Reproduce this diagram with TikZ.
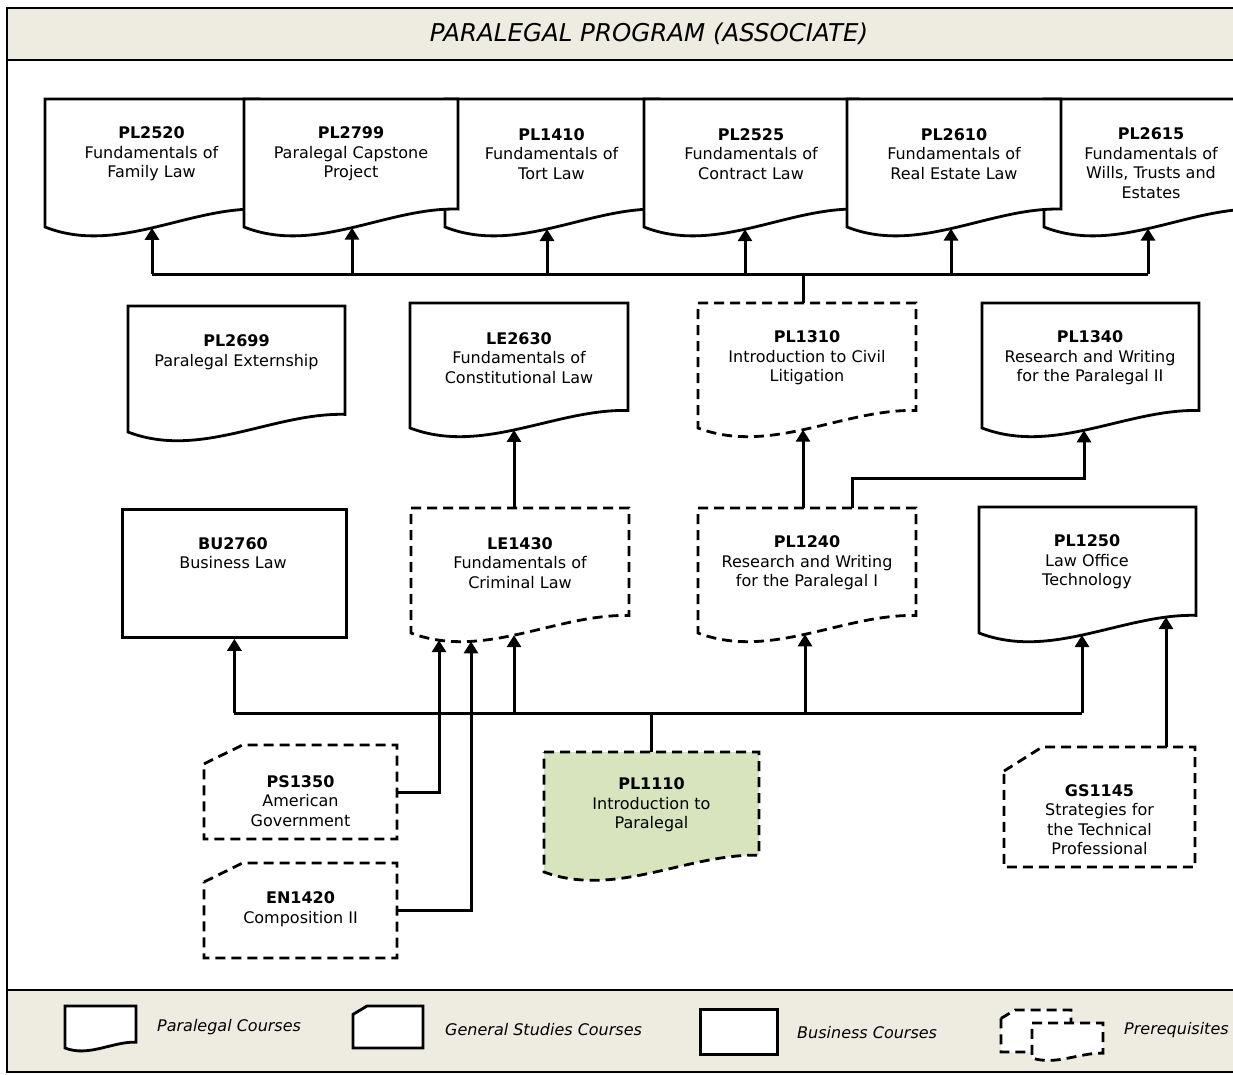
\documentclass[tikz,border=0pt]{standalone}
\usepackage{fontspec}
\setmainfont{DejaVu Sans}
\usetikzlibrary{arrows.meta,calc}
\definecolor{bandtan}{HTML}{EEECE1}
\definecolor{introgreen}{HTML}{D7E4BD}
\newcommand{\docshape}[7][]{%
  \draw[docline,#1] (#3,#4) -- ({#3+#5},#4) coordinate[midway] (#2-top) -- ({#3+#5},{#4+0.86*#6})
    .. controls ({#3+2*#5/3},{#4+0.845*#6}) and ({#3+#5/3},{#4+1.22*#6}) .. (#3,{#4+#6}) -- cycle;
  \foreach \lbl/\ex in {#7}{
    \pgfmathsetmacro{\tpos}{1-(\ex-#3)/#5}
    \path ({#3+#5},{#4+0.86*#6}) .. controls ({#3+2*#5/3},{#4+0.845*#6}) and ({#3+#5/3},{#4+1.22*#6}) .. (#3,{#4+#6}) coordinate[pos=\tpos] (#2-\lbl);
  }%
}
\newcommand{\gsshape}[6][]{%
  \draw[docline,#1] (#3,{#4+0.2*#6}) -- ({#3+0.2*#5},#4) -- ({#3+#5},#4) -- ({#3+#5},{#4+#6}) -- (#3,{#4+#6}) -- cycle;
  \coordinate (#2-top) at ({#3+#5/2},#4);
  \coordinate (#2-east) at ({#3+#5},{#4+#6/2});
}
\begin{document}
\begin{tikzpicture}[x=1pt,y=-1pt,>={Triangle[width=14pt,length=12pt]},
  docline/.style={draw,line width=2.8pt,fill=white},
  prereq/.style={dash pattern=on 10pt off 6pt},
  link/.style={line width=3pt},
  course/.style={align=center,inner sep=0pt,font=\fontsize{16}{19.5}\selectfont},
  legend/.style={anchor=west,inner sep=0pt,font=\fontsize{16}{19.5}\selectfont\itshape}]

\useasboundingbox (0,0) rectangle (1233,1074);
\draw[line width=2pt] (7,8) rectangle (1250,1072);
\draw[line width=2pt,fill=bandtan] (7,8) rectangle (1250,60);
\draw[line width=2pt,fill=bandtan] (7,990) rectangle (1250,1072);
\node[font=\fontsize{24.5}{28}\selectfont\itshape] (title) at (649,34) {PARALEGAL PROGRAM (ASSOCIATE)};

\docshape{PL2520}{45}{99}{214}{128}{in/152}
\docshape{PL1410}{445}{99}{214}{128}{in/547}
\docshape{PL2799}{244}{99}{214}{128}{in/352}
\docshape{PL2525}{644}{99}{214}{128}{in/745}
\docshape{PL2615}{1044}{99}{214}{128}{in/1148}
\docshape{PL2610}{847}{99}{214}{128}{in/951}

\docshape{PL2699}{128}{306}{217}{126}{in/236}
\docshape{LE2630}{410}{303}{218}{125}{in/514}
\docshape[prereq]{PL1310}{698}{303}{218}{125}{in/803}
\docshape{PL1340}{982}{303}{217}{125}{in/1084}

\node[docline,minimum width=224pt,minimum height=128pt,anchor=north west] (BU2760-box) at (121,508) {};
\docshape[prereq]{LE1430}{411}{508}{218}{125}{a/439,b/471,in/514}
\docshape[prereq]{PL1240}{698}{508}{218}{125}{in/805}
\docshape{PL1250}{979}{507}{217}{126}{in/1082,g/1166}

\gsshape[prereq]{PS1350}{204}{745}{193}{94}
\gsshape[prereq]{EN1420}{204}{863}{193}{95}
\docshape[prereq,fill=introgreen]{PL1110}{544}{752}{215}{120}{in/657}
\gsshape[prereq]{GS1145}{1004}{747}{191}{120}

\node[course] (PL2520) at (151.5,154) {\textbf{PL2520}\\Fundamentals of\\Family Law};
\node[course] (PL2799) at (351,154) {\textbf{PL2799}\\Paralegal Capstone\\Project};
\node[course] (PL1410) at (551.5,154) {\textbf{PL1410}\\Fundamentals of\\Tort Law};
\node[course] (PL2525) at (751,154) {\textbf{PL2525}\\Fundamentals of\\Contract Law};
\node[course] (PL2610) at (954,154) {\textbf{PL2610}\\Fundamentals of\\Real Estate Law};
\node[course] (PL2615) at (1151,163) {\textbf{PL2615}\\Fundamentals of\\Wills, Trusts and\\Estates};
\node[course] (PL2699) at (236.5,352) {\textbf{PL2699}\\Paralegal Externship};
\node[course] (LE2630) at (519,358) {\textbf{LE2630}\\Fundamentals of\\Constitutional Law};
\node[course] (PL1310) at (807,358) {\textbf{PL1310}\\Introduction to Civil\\Litigation};
\node[course] (PL1340) at (1090,358) {\textbf{PL1340}\\Research and Writing\\for the Paralegal II};
\node[course] (BU2760) at (233,553) {\textbf{BU2760}\\Business Law};
\node[course] (LE1430) at (520,563) {\textbf{LE1430}\\Fundamentals of\\Criminal Law};
\node[course] (PL1240) at (807,563) {\textbf{PL1240}\\Research and Writing\\for the Paralegal I};
\node[course] (PL1250) at (1087,562) {\textbf{PL1250}\\Law Office\\Technology};
\node[course] (PS1350) at (300.5,801) {\textbf{PS1350}\\American\\Government};
\node[course] (EN1420) at (300.5,909) {\textbf{EN1420}\\Composition II};
\node[course] (PL1110) at (651.5,805) {\textbf{PL1110}\\Introduction to\\Paralegal};
\node[course] (GS1145) at (1099.5,819.5) {\textbf{GS1145}\\Strategies for\\the Technical\\Professional};

\coordinate (topbus) at (0,274);
\coordinate (lowbus) at (0,713);

\draw[link] (PL2520-in |- topbus) -- (PL2615-in |- topbus);
\foreach \c in {PL2520,PL2799,PL1410,PL2525,PL2610,PL2615}
  \draw[link,->] (\c-in |- topbus) -- (\c-in);
\draw[link] (PL1310-in |- PL1310-top) -- (PL1310-in |- topbus);
\draw[link,->] (LE2630-in |- LE1430-top) -- (LE2630-in);
\draw[link,->] (PL1310-in |- PL1240-top) -- (PL1310-in);
\draw[link,->] ([xshift=45pt]PL1240-top) -- ++(0,-30) -| (PL1340-in);

\draw[link] (BU2760-box.south |- lowbus) -- (PL1250-in |- lowbus);
\draw[link,->] (BU2760-box.south |- lowbus) -- (BU2760-box.south);
\foreach \c in {LE1430,PL1240,PL1250}
  \draw[link,->] (\c-in |- lowbus) -- (\c-in);
\draw[link] (PL1110-top) -- (PL1110-top |- lowbus);
\draw[link,->] (PS1350-east) -| (LE1430-a);
\draw[link,->] (EN1420-east) -| (LE1430-b);
\draw[link,->] (PL1250-g |- GS1145-top) -- (PL1250-g);

\docshape{legpara}{65}{1006}{71}{42}{in/100}
\gsshape{leggen}{353}{1006}{70}{42}
\node[docline,minimum width=77pt,minimum height=45pt,anchor=north west] (legbiz) at (699,1008) {};
\gsshape[prereq]{legpre1}{1001}{1010}{70}{42}
\docshape[prereq]{legpre2}{1032}{1023}{71}{35}{in/1060}
\node[legend] (legparatxt) at (157,1027) {Paralegal Courses};
\node[legend] (leggentxt) at (445,1030) {General Studies Courses};
\node[legend] (legbiztxt) at (797,1033) {Business Courses};
\node[legend] (legpretxt) at (1124,1030) {Prerequisites};
\end{tikzpicture}
\end{document}
